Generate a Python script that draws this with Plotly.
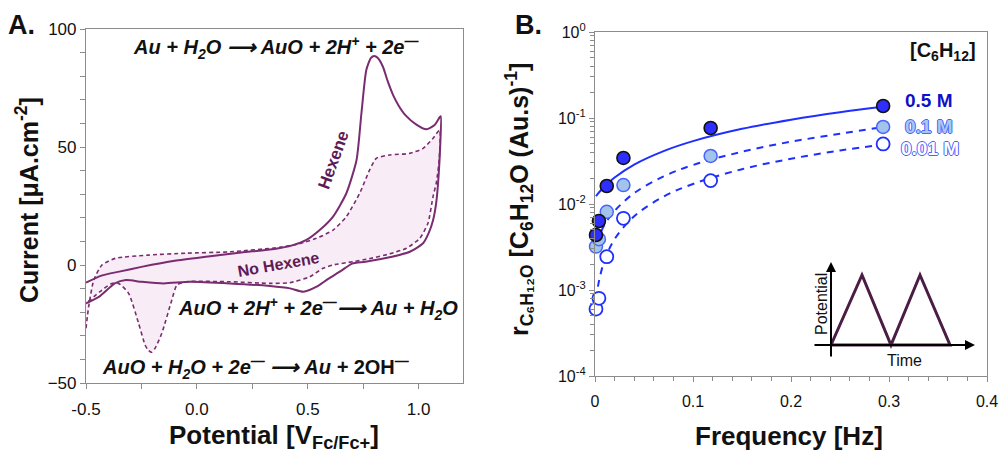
import plotly.graph_objects as go

# ---------------- Panel A data (cyclic voltammograms) ----------------
hex_V = [-0.5, -0.43, -0.35, -0.25, -0.1, 0.05, 0.2, 0.35, 0.43, 0.494, 0.554, 0.614, 0.674, 0.72,
         0.742, 0.764, 0.785, 0.80, 0.815, 0.839, 0.86, 0.885, 0.91, 0.94, 0.99, 1.035, 1.072, 1.095, 1.1,
         1.097, 1.09, 1.08, 1.065, 1.045, 1.02, 0.96, 0.88, 0.76, 0.70, 0.65, 0.59, 0.54, 0.48,
         0.42, 0.33, 0.15, -0.03, -0.15, -0.25, -0.32, -0.37, -0.44, -0.5]
hex_I = [-7.5, -4.5, -2.8, -0.8, 1.8, 3.6, 5.3, 6.8, 8.3, 10.6, 14.8, 20.5, 30.4, 44.5,
         64.3, 82.6, 87.8, 88.6, 87.8, 84.0, 78.0, 72.0, 67.5, 63.5, 59.5, 57.5, 59.3, 62.6, 63.0,
         50.0, 38.0, 27.0, 19.0, 13.5, 9.2, 5.6, 3.5, 1.4, 0.6, -2.5, -6.0, -9.2, -11.3,
         -9.9, -8.9, -7.8, -7.1, -7.8, -7.1, -6.4, -7.8, -13.4, -16.2]

nohex_V = [-0.5, -0.488, -0.465, -0.428, -0.368, -0.22, -0.05, 0.15, 0.374, 0.46, 0.539, 0.614,
           0.674, 0.734, 0.779, 0.809, 0.869, 0.959, 1.02, 1.065, 1.095,
           1.093, 1.08, 1.065, 1.042, 1.005, 0.945, 0.869, 0.764, 0.704, 0.614, 0.569, 0.509,
           0.419, 0.329, 0.149, -0.046, -0.09, -0.113, -0.158, -0.19, -0.205, -0.22, -0.233,
           -0.263, -0.308, -0.353, -0.383, -0.428, -0.464, -0.5]
nohex_I = [-26.8, -17.7, -6.4, 0.0, 2.8, 4.2, 5.0, 5.6, 7.5, 9.0, 11.3, 14.8,
           20.5, 30.4, 40.3, 45.2, 46.6, 47.3, 49.4, 53.7, 57.2,
           45.0, 35.0, 29.0, 17.7, 11.3, 7.1, 4.7, 2.4, 1.4, 0.0, -1.4, -5.0,
           -7.5, -7.8, -7.1, -7.1, -8.5, -14.8, -28.9, -35.5, -37.0, -36.0, -34.0,
           -24.7, -12.0, -7.8, -7.8, -10.6, -13.4, -16.2]

# ---------------- Panel B data ----------------
freq = [0.001, 0.004, 0.012, 0.029, 0.118, 0.294]
rate_05M = [0.00436, 0.00634, 0.0162, 0.0343, 0.0765, 0.138]
rate_01M = [0.0032, 0.0039, 0.0081, 0.0166, 0.0362, 0.0786]
rate_001M = [0.0006, 0.0008, 0.00244, 0.00682, 0.0187, 0.0499]

fit_x = [0.001, 0.004, 0.01, 0.02, 0.04, 0.07, 0.1, 0.15, 0.2, 0.25, 0.294]
fit_05M = [0.0123, 0.0136, 0.0161, 0.0203, 0.0287, 0.0412, 0.0538, 0.0748, 0.0957, 0.117, 0.135]
fit_01M = [0.0035, 0.0042, 0.0058, 0.0083, 0.0134, 0.0209, 0.0284, 0.0405, 0.0530, 0.0655, 0.0786]
fit_001M = [0.00077, 0.00126, 0.00225, 0.0039, 0.0072, 0.0122, 0.0171, 0.0254, 0.0336, 0.0419, 0.0491]

conc_labels = ["0.5 M", "0.1 M", "0.01 M"]

FONT = "Arial, 'Liberation Sans', sans-serif"
W, H = 1000, 452
PURPLE = "#7a2c70"
PURPLE_TXT = "#5e1a55"
BLUE = "#1f2fff"
AX = "#8c8c8c"


def px(x):
    return x / W


def py(y):
    return 1 - y / H


fig = go.Figure()

# Panel A traces
fig.add_trace(go.Scatter(x=nohex_V, y=nohex_I, mode="lines", fill="toself",
                         fillcolor="rgba(242,220,238,0.55)",
                         line=dict(color=PURPLE, width=1.6, dash="4px,3px", shape="spline", smoothing=0.6),
                         xaxis="x", yaxis="y", showlegend=False))
fig.add_trace(go.Scatter(x=hex_V, y=hex_I, mode="lines",
                         line=dict(color=PURPLE, width=2, shape="spline", smoothing=0.6),
                         xaxis="x", yaxis="y", showlegend=False))

# Panel B fit lines
fig.add_trace(go.Scatter(x=fit_x, y=fit_05M, mode="lines", line=dict(color=BLUE, width=2, shape="spline"),
                         xaxis="x2", yaxis="y2", showlegend=False))
fig.add_trace(go.Scatter(x=fit_x, y=fit_01M, mode="lines",
                         line=dict(color=BLUE, width=2, dash="7px,6px", shape="spline"),
                         xaxis="x2", yaxis="y2", showlegend=False))
fig.add_trace(go.Scatter(x=fit_x, y=fit_001M, mode="lines",
                         line=dict(color=BLUE, width=2, dash="7px,6px", shape="spline"),
                         xaxis="x2", yaxis="y2", showlegend=False))

# Panel B markers
fig.add_trace(go.Scatter(x=freq, y=rate_001M, mode="markers",
                         marker=dict(size=13, color="white", line=dict(color=BLUE, width=1.8)),
                         xaxis="x2", yaxis="y2", showlegend=False, cliponaxis=False))
fig.add_trace(go.Scatter(x=freq, y=rate_01M, mode="markers",
                         marker=dict(size=13, color="#a3c4ea", line=dict(color="#4a63ff", width=1.5)),
                         xaxis="x2", yaxis="y2", showlegend=False, cliponaxis=False))
fig.add_trace(go.Scatter(x=freq, y=rate_05M, mode="markers",
                         marker=dict(size=13, color="#2e2eff", line=dict(color="#111111", width=1.6)),
                         xaxis="x2", yaxis="y2", showlegend=False, cliponaxis=False))

common = dict(showline=True, linecolor=AX, linewidth=1.2, mirror=True, ticks="outside",
              tickcolor=AX, ticklen=5, showgrid=False, zeroline=False, automargin=False)
tickfontA = dict(family=FONT, size=17, color="#111111")
tickfontB = dict(family=FONT, size=16, color="#111111")

ylog_minor = [m * 10 ** e for e in (-4, -3, -2, -1) for m in range(2, 10)]

fig.update_layout(
    width=W, height=H, margin=dict(l=0, r=0, t=0, b=0, autoexpand=False),
    paper_bgcolor="white", plot_bgcolor="white",
    xaxis=dict(domain=[px(86), px(463)], range=[-0.5, 1.2], anchor="y",
               tickmode="array", tickvals=[-0.5, 0, 0.5, 1.0], ticktext=["-0.5", "0.0", "0.5", "1.0"],
               ticklabelstandoff=5, tickfont=tickfontA,
               minor=dict(tickmode="array", tickvals=[-0.25, 0.25, 0.75], ticks="outside", ticklen=5,
                          tickcolor=AX),
               **common),
    yaxis=dict(domain=[py(383), py(29)], range=[-50, 100], anchor="x",
               tickmode="array", tickvals=[-50, 0, 50, 100], tickfont=tickfontA,
               minor=dict(tickmode="array", tickvals=[-40, -30, -20, -10, 10, 20, 30, 40, 60, 70, 80, 90],
                          ticks="outside", ticklen=5, tickcolor=AX),
               **common),
    xaxis2=dict(domain=[px(595), px(987)], range=[0, 0.4], anchor="y2",
                tickmode="array", tickvals=[0, 0.1, 0.2, 0.3, 0.4], ticktext=["0", "0.1", "0.2", "0.3", "0.4"],
                ticklabelstandoff=6, tickfont=tickfontB,
                minor=dict(tickmode="array",
                           tickvals=[0.02, 0.04, 0.06, 0.08, 0.12, 0.14, 0.16, 0.18, 0.22, 0.24, 0.26, 0.28,
                                     0.32, 0.34, 0.36, 0.38],
                           ticks="outside", ticklen=4, tickcolor=AX),
                **common),
    yaxis2=dict(domain=[py(376), py(32)], type="log", range=[-4, 0], anchor="x2",
                tickmode="array", tickvals=[1e-4, 1e-3, 1e-2, 1e-1, 1], tickfont=tickfontB,
                ticktext=["10<sup>-4</sup>", "10<sup>-3</sup>", "10<sup>-2</sup>", "10<sup>-1</sup>",
                          "10<sup>0</sup>"],
                minor=dict(tickmode="array", tickvals=ylog_minor, ticks="outside", ticklen=4, tickcolor=AX),
                **common),
)

ann = []


def text(x, y, t, size=17, color="#111111", angle=0, xanchor="center", **kw):
    ann.append(dict(x=px(x), y=py(y), xref="paper", yref="paper", text=t, showarrow=False,
                    font=dict(family=FONT, size=size, color=color, **kw), textangle=angle,
                    xanchor=xanchor, yanchor="middle"))


# Panel labels
text(21, 25, "<b>A.</b>", size=27)
text(528, 25, "<b>B.</b>", size=27)

# Axis titles
text(274, 436, "<b>Potential [V<sub>Fc/Fc+</sub>]</b>", size=26)
text(27, 200, "<b>Current [μA.cm<sup>-2</sup>]</b>", size=25, angle=-90)
text(789, 436, "<b>Frequency [Hz]</b>", size=26)
text(519, 200, "<b>r<sub>C₆H₁₂O</sub> [C<sub>6</sub>H<sub>12</sub>O (Au.s)<sup>-1</sup>]</b>", size=25, angle=-90)

# Reaction equations
text(276, 48, "<b><i>Au + H<sub>2</sub>O ⟶ AuO + 2H<sup>+</sup> + 2e<sup>—</sup></i></b>", size=20)
text(318, 308, "<b><i>AuO + 2H<sup>+</sup> + 2e<sup>—</sup>⟶ Au + H<sub>2</sub>O</i></b>", size=20)
text(255, 367, "<b><i>AuO + H<sub>2</sub>O + 2e<sup>—</sup> ⟶ Au + </i>2OH<sup>—</sup></b>", size=20)

# Curve labels
text(333, 160, "<b>Hexene</b>", size=17, color=PURPLE_TXT, angle=-70)
text(278, 264, "<b>No Hexene</b>", size=16, color=PURPLE_TXT, angle=-10)

# Panel B labels
text(943, 52, "<b>[C<sub>6</sub>H<sub>12</sub>]</b>", size=20)
outline = "-1px 0 #4a63ff, 1px 0 #4a63ff, 0 -1px #4a63ff, 0 1px #4a63ff"
text(903, 100, "<b>" + conc_labels[0] + "</b>", size=19, color="#1010c8", xanchor="left")
text(903, 127, "<b>" + conc_labels[1] + "</b>", size=19, color="#a8c8f0", xanchor="left", shadow=outline)
text(899, 148, "<b>" + conc_labels[2] + "</b>", size=19, color="#ffffff", xanchor="left", shadow=outline)

# Inset labels
text(821, 304, "Potential", size=16, angle=-90)
text(904, 360, "Time", size=16)

# Inset arrows (axes)
ann.append(dict(x=px(831), y=py(262), xref="paper", yref="paper", ax=0, ay=96, axref="pixel", ayref="pixel",
                text="", showarrow=True, arrowhead=2, arrowsize=1, arrowwidth=2, arrowcolor="#000000"))
ann.append(dict(x=px(975), y=py(345), xref="paper", yref="paper", ax=-162, ay=0, axref="pixel", ayref="pixel",
                text="", showarrow=True, arrowhead=2, arrowsize=1, arrowwidth=2, arrowcolor="#000000"))

fig.update_layout(annotations=ann)

# Inset triangle wave (decorative diagram)
wave = [(831, 345), (862, 275), (891, 345), (920, 275), (950, 345)]
path = "M " + " L ".join(f"{px(a)},{py(b)}" for a, b in wave) + f" L {px(831)},{py(345)}"
fig.add_shape(type="path", path=path, xref="paper", yref="paper",
              line=dict(color="#4b1d45", width=3))

fig.write_html("out.html", config={"displayModeBar": False},
               post_script="document.body.style.margin='0';document.body.style.padding='0';"
                           "document.body.style.overflow='hidden';")
